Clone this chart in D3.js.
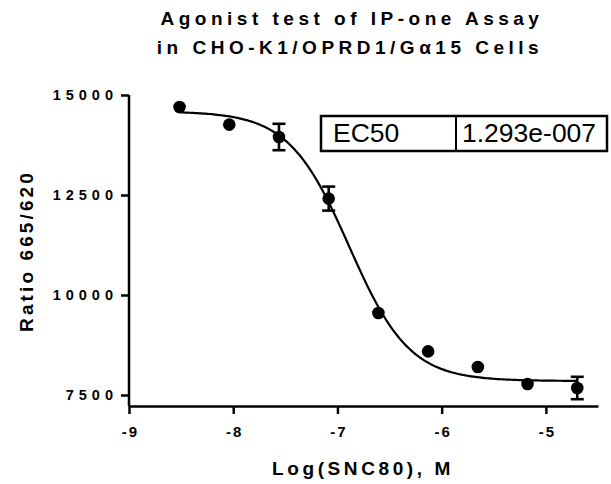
<!doctype html>
<html>
<head>
<meta charset="utf-8">
<script src="https://d3js.org/d3.v7.min.js"></script>
<style>
  body { margin: 0; background: #fff; }
  svg { display: block; font-family: "Liberation Sans", Arial, sans-serif; }
</style>
</head>
<body>
<svg id="chart" width="611" height="484"></svg>
<script>
// data
const logDose = [-8.515, -8.038, -7.561, -7.084, -6.607, -6.130, -5.653, -5.176, -4.699];
const meanRatio = [14700, 14260, 13950, 12410, 9550, 8590, 8200, 7775, 7675];
const semRatio = [0, 0, 330, 300, 0, 0, 0, 0, 280];
const xTicks = [-9, -8, -7, -6, -5];
const yTicks = [7500, 10000, 12500, 15000];
// fitted curve (4PL, decreasing)
const fitTop = 14590, fitBottom = 7850, fitEC50 = 1.293e-7, fitHill = 1.5;
const ec50Label = ["EC50", "1.293e-007"];

const svg = d3.select("#chart");
const x = d3.scaleLinear().domain([-9, -4.5]).range([129, 598]);
const y = d3.scaleLinear().domain([7500, 15000]).range([395, 95]);
const axisY = 406;

// title
const title = svg.append("text")
  .attr("text-anchor", "middle")
  .attr("font-weight", "bold")
  .attr("font-size", 19)
  .attr("letter-spacing", 4.5);
title.append("tspan").attr("x", 352).attr("y", 25).text("Agonist test of IP-one Assay");
title.append("tspan").attr("x", 350).attr("y", 54).text("in CHO-K1/OPRD1/G\u03b115 Cells");

// x axis
const gx = svg.append("g")
  .attr("transform", `translate(0,${axisY})`)
  .call(d3.axisBottom(x).tickValues(xTicks).tickSize(8).tickSizeOuter(0).tickPadding(12)
    .tickFormat(d => String(d)));
gx.select(".domain").attr("stroke-width", 2.5);
gx.selectAll(".tick line").attr("stroke-width", 2.5);
gx.selectAll(".tick text")
  .attr("font-size", 15).attr("font-weight", "bold").attr("font-family", null)
  .attr("letter-spacing", 2).attr("dx", 1).attr("fill", "#000");

// y axis
const gy = svg.append("g")
  .attr("transform", `translate(${x(-9)},0)`)
  .call(d3.axisLeft(y).tickValues(yTicks).tickSize(8).tickPadding(8)
    .tickFormat(d => String(d)));
gy.select(".domain").remove();
gy.append("line").attr("y1", y(15000)).attr("y2", axisY)
  .attr("stroke", "#000").attr("stroke-width", 2.5);
gy.selectAll(".tick line").attr("stroke-width", 2.5);
gy.selectAll(".tick text")
  .attr("font-size", 14.5).attr("font-weight", "bold").attr("font-family", null)
  .attr("letter-spacing", 5).attr("dx", 5).attr("fill", "#000");

// axis titles
svg.append("text")
  .attr("x", 363).attr("y", 475)
  .attr("text-anchor", "middle").attr("font-weight", "bold")
  .attr("font-size", 19).attr("letter-spacing", 3.6)
  .text("Log(SNC80), M");
svg.append("text")
  .attr("transform", `translate(33,251) rotate(-90)`)
  .attr("text-anchor", "middle").attr("font-weight", "bold")
  .attr("font-size", 19).attr("letter-spacing", 3.1)
  .text("Ratio 665/620");

// fitted curve
const logEC50 = Math.log10(fitEC50);
const fit = v => fitBottom + (fitTop - fitBottom) / (1 + Math.pow(10, (v - logEC50) * fitHill));
const curveX = d3.range(200).map(i => logDose[0] + (logDose[logDose.length - 1] - logDose[0]) * i / 199);
svg.append("path")
  .datum(curveX)
  .attr("fill", "none").attr("stroke", "#000").attr("stroke-width", 2.2)
  .attr("d", d3.line().x(d => x(d)).y(d => y(fit(d))));

// error bars
const pts = logDose.map((d, i) => ({ x: d, y: meanRatio[i], e: semRatio[i] }));
const eb = svg.append("g").selectAll("g").data(pts.filter(d => d.e > 0)).join("g")
  .attr("stroke", "#000").attr("stroke-width", 2.6);
eb.append("line").attr("x1", d => x(d.x)).attr("x2", d => x(d.x))
  .attr("y1", d => y(d.y + d.e)).attr("y2", d => y(d.y - d.e));
eb.append("line").attr("x1", d => x(d.x) - 6.5).attr("x2", d => x(d.x) + 6.5)
  .attr("y1", d => y(d.y + d.e)).attr("y2", d => y(d.y + d.e));
eb.append("line").attr("x1", d => x(d.x) - 6.5).attr("x2", d => x(d.x) + 6.5)
  .attr("y1", d => y(d.y - d.e)).attr("y2", d => y(d.y - d.e));

// points
svg.append("g").selectAll("circle").data(pts).join("circle")
  .attr("cx", d => x(d.x)).attr("cy", d => y(d.y)).attr("r", 6.3).attr("fill", "#000");

// EC50 table
const box = svg.append("g");
box.append("rect").attr("x", 321).attr("y", 116).attr("width", 286).attr("height", 35)
  .attr("fill", "#fff").attr("stroke", "#000").attr("stroke-width", 2.5);
box.append("line").attr("x1", 456).attr("x2", 456).attr("y1", 116).attr("y2", 151)
  .attr("stroke", "#000").attr("stroke-width", 2);
box.append("text").attr("x", 333).attr("y", 142).attr("font-size", 26.5).text(ec50Label[0]);
box.append("text").attr("x", 462).attr("y", 142).attr("font-size", 26.5).text(ec50Label[1]);
</script>
</body>
</html>
